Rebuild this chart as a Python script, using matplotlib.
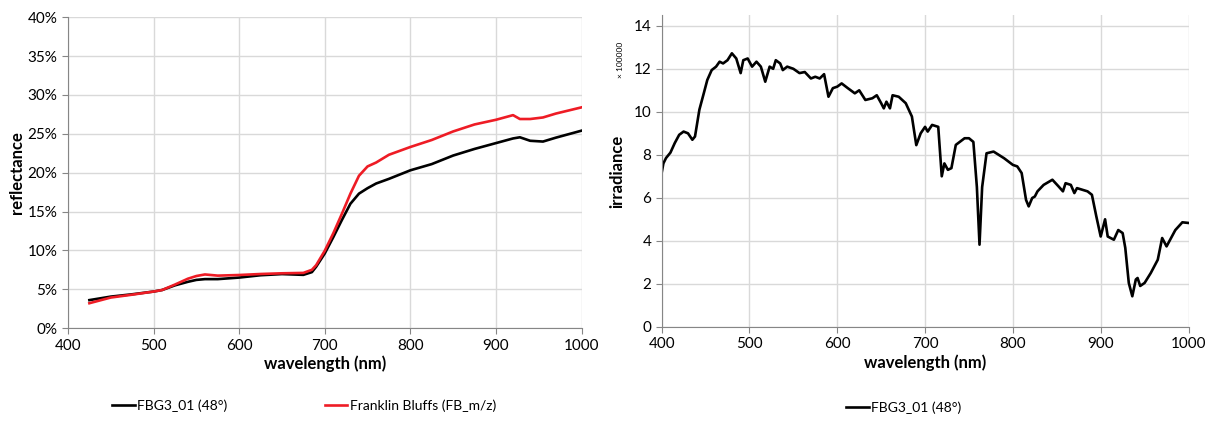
import matplotlib.pyplot as plt
from matplotlib.ticker import FuncFormatter

plt.rcParams['font.family'] = ['Lato', 'DejaVu Sans']

# reflectance spectra (percent)
wl_refl = [425, 450, 475, 500, 510, 525, 540, 550, 560, 575, 600, 625, 650, 675, 685, 690,
           700, 710, 720, 730, 740, 750, 760, 775, 800, 825, 850, 875, 900, 920, 928, 940,
           955, 970, 1000]
fbg3 = [3.6, 4.05, 4.35, 4.7, 4.9, 5.5, 5.95, 6.2, 6.3, 6.3, 6.5, 6.8, 6.95, 6.85, 7.2, 7.9,
        9.6, 11.7, 13.9, 16.0, 17.3, 18.0, 18.6, 19.2, 20.3, 21.1, 22.2, 23.05, 23.8, 24.4, 24.55, 24.1,
        24.0, 24.5, 25.4]
franklin = [3.2, 3.93, 4.3, 4.7, 4.9, 5.6, 6.35, 6.7, 6.9, 6.75, 6.83, 6.96, 7.05, 7.1, 7.5, 8.1,
            9.95, 12.2, 14.7, 17.3, 19.6, 20.8, 21.3, 22.3, 23.3, 24.2, 25.3, 26.2, 26.8, 27.4, 26.9, 26.9,
            27.1, 27.6, 28.4]

# irradiance (x 100000)
wl_irr = [400, 402, 405, 410, 415, 420, 425, 430, 435, 438, 443, 448, 452, 457, 462, 466, 470, 475,
          480, 485, 490, 493, 498, 503, 508, 513, 518, 523, 527, 530, 535, 538, 543, 550, 557, 563,
          570, 575, 580, 585, 590, 595, 600, 605, 612, 620, 625, 632, 640, 645, 650, 653, 656, 660,
          663, 670, 678, 685, 690, 695, 700, 703, 708, 715, 719, 722, 726, 730, 735, 745, 750, 755,
          759, 762, 765, 770, 778, 790, 800, 805, 810, 815, 818, 822, 825, 828, 835, 845, 852, 857,
          860, 866, 870, 873, 885, 890, 895, 900, 905, 908, 915, 920, 925, 928, 932, 936, 940, 942,
          945, 950, 957, 965, 970, 975, 985, 993, 1000]
irradiance = [7.15, 7.6, 7.85, 8.1, 8.55, 8.93, 9.08, 9.0, 8.7, 8.85, 10.1, 10.86, 11.48, 11.94, 12.1, 12.33, 12.25, 12.4,
              12.72, 12.48, 11.8, 12.4, 12.48, 12.1, 12.33, 12.1, 11.4, 12.1, 12.0, 12.4, 12.25, 11.94, 12.1, 12.0, 11.8, 11.85,
              11.55, 11.63, 11.55, 11.75, 10.7, 11.1, 11.17, 11.32, 11.1, 10.86, 11.0, 10.55, 10.63, 10.77, 10.4, 10.16, 10.47, 10.16,
              10.77, 10.7, 10.4, 9.78, 8.45, 9.0, 9.3, 9.08, 9.39, 9.3, 7.0, 7.6, 7.3, 7.38, 8.46, 8.77, 8.77, 8.6,
              6.5, 3.82, 6.5, 8.07, 8.15, 7.84, 7.53, 7.46, 7.15, 5.9, 5.6, 5.99, 6.06, 6.3, 6.6, 6.84, 6.53, 6.3,
              6.68, 6.6, 6.22, 6.45, 6.3, 6.14, 5.14, 4.2, 5.0, 4.2, 4.05, 4.5, 4.36, 3.67, 2.04, 1.42, 2.2, 2.27,
              1.9, 2.04, 2.5, 3.12, 4.13, 3.74, 4.5, 4.86, 4.83]

grid_c = '#d9d9d9'
spine_c = '#868686'

fig = plt.figure(figsize=(12.14, 4.30), dpi=100)
ax1 = fig.add_axes([0.056, 0.237, 0.423, 0.723])
ax2 = fig.add_axes([0.545, 0.240, 0.434, 0.725])

for ax in (ax1, ax2):
    ax.set_xlim(400, 1000)
    ax.set_xticks(range(400, 1001, 100))
    ax.grid(True, color=grid_c, linewidth=1)
    ax.set_axisbelow(True)
    for s in ('top', 'right'):
        ax.spines[s].set_visible(False)
    for s in ('left', 'bottom'):
        ax.spines[s].set_color(spine_c)
    ax.tick_params(direction='out', length=4, color=spine_c, labelsize=11)
    ax.set_xlabel('wavelength (nm)', fontsize=12, fontweight='bold', labelpad=2)

# left panel
ax1.plot(wl_refl, fbg3, color='black', lw=1.9, label='FBG3_01 (48°)')
ax1.plot(wl_refl, franklin, color='#ee1c25', lw=1.9, label='Franklin Bluffs (FB_m/z)')
ax1.set_ylim(0, 40)
ax1.set_yticks(range(0, 41, 5))
ax1.yaxis.set_major_formatter(FuncFormatter(lambda v, p: f'{v:.0f}%'))
ax1.set_ylabel('reflectance', fontsize=12, fontweight='bold', labelpad=2)
ax1.legend(loc='center', bbox_to_anchor=(0.46, -0.25), ncol=2, frameon=False,
           fontsize=10, handlelength=1.6, handletextpad=0.2, columnspacing=7)

# right panel
ax2.plot(wl_irr, irradiance, color='black', lw=1.9, label='FBG3_01 (48°)')
ax2.set_ylim(0, 14.5)
ax2.set_yticks(range(0, 15, 2))
ax2.set_ylabel('irradiance', fontsize=12, fontweight='bold', labelpad=6)
ax2.legend(loc='center', bbox_to_anchor=(0.46, -0.26), frameon=False,
           fontsize=10, handlelength=1.6, handletextpad=0.2)
fig.text(0.511, 0.86, '× 100000', rotation=90, fontsize=6, ha='center', va='center')

fig.savefig('out.png', dpi=100)
